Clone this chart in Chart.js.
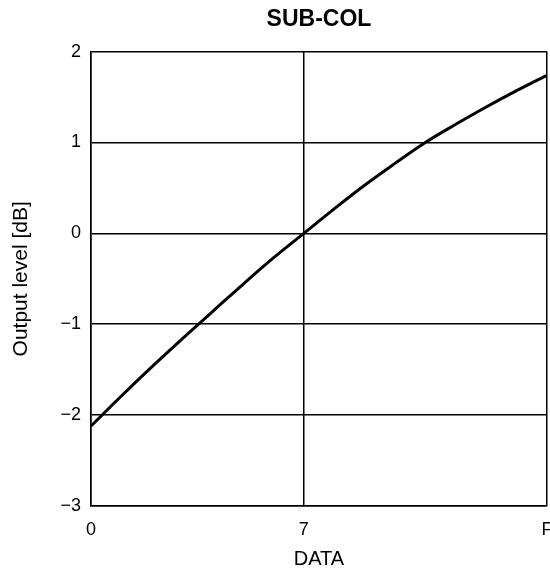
<!DOCTYPE html>
<html>
<head>
<meta charset="utf-8">
<title>SUB-COL</title>
<script src="https://cdn.jsdelivr.net/npm/chart.js@4/dist/chart.umd.min.js"></script>
<style>
  html, body { margin: 0; padding: 0; background: #fff; }
  #wrap { width: 550px; height: 571px; }
</style>
</head>
<body>
<div id="wrap"><canvas id="chart" width="550" height="571"></canvas></div>
<script>
// ── Data ─────────────────────────────────────────────────────────
const DATA_X = [0, 1, 2, 3, 4, 5, 6, 7, 8, 9, 10, 11, 12, 13, 14, 15];
const LEVEL_DB = [-2.12, -1.79, -1.47, -1.16, -0.86, -0.56, -0.27, 0,
                  0.27, 0.53, 0.77, 1.0, 1.2, 1.39, 1.57, 1.74];

const X_TICKS = [0, 7, 15];
const X_TICK_LABELS = ['0', '7', 'F'];
const Y_MIN = -3;
const Y_MAX = 2;


// ── Defaults ─────────────────────────────────────────────────────
Chart.defaults.color = '#000';
Chart.defaults.font.family = "'Liberation Sans', Arial, Helvetica, sans-serif";
Chart.defaults.font.size = 18;

const GRID = { color: '#000', lineWidth: 1.5, drawTicks: false };


// ── Chart ────────────────────────────────────────────────────────
new Chart(document.getElementById('chart'), {
  type: 'line',
  data: {
    datasets: [{
      data: DATA_X.map((x, i) => ({ x, y: LEVEL_DB[i] })),
      borderColor: '#000',
      borderWidth: 3,
      pointRadius: 0,
      tension: 0.4,
      fill: false
    }]
  },
  options: {
    responsive: false,
    animation: false,
    layout: { padding: { left: 0, right: 3, top: 0, bottom: 0 } },
    plugins: {
      legend: { display: false },
      tooltip: { enabled: false },
      title: {
        display: true,
        fullSize: false,
        text: 'SUB-COL',
        font: { size: 23, weight: 'bold' },
        padding: { top: 6, bottom: 18 }
      }
    },
    scales: {
      x: {
        type: 'linear',
        min: 0,
        max: 15,
        afterBuildTicks: scale => {
          scale.ticks = X_TICKS.map(v => ({ value: v }));
        },
        afterFit: scale => {
          scale.height = 65;
          scale.paddingLeft = 0;
          scale.paddingRight = 0;
        },
        ticks: {
          padding: 13,
          maxRotation: 0,
          autoSkip: false,
          callback: v => X_TICK_LABELS[X_TICKS.indexOf(v)]
        },
        grid: GRID,
        border: { color: '#000', width: 1.5 },
        title: {
          display: true,
          text: 'DATA',
          font: { size: 20 },
          padding: { top: 6, bottom: 0 }
        }
      },
      y: {
        min: Y_MIN,
        max: Y_MAX,
        afterFit: scale => { scale.width = 91; },
        ticks: {
          stepSize: 1,
          padding: 10,
          callback: v => String(v).replace('-', '\u2212')
        },
        grid: GRID,
        border: { color: '#000', width: 1.5 },
        title: {
          display: true,
          text: 'Output level [dB]',
          font: { size: 21 },
          padding: { top: 9, bottom: 0 }
        }
      }
    }
  }
});
</script>
</body>
</html>
